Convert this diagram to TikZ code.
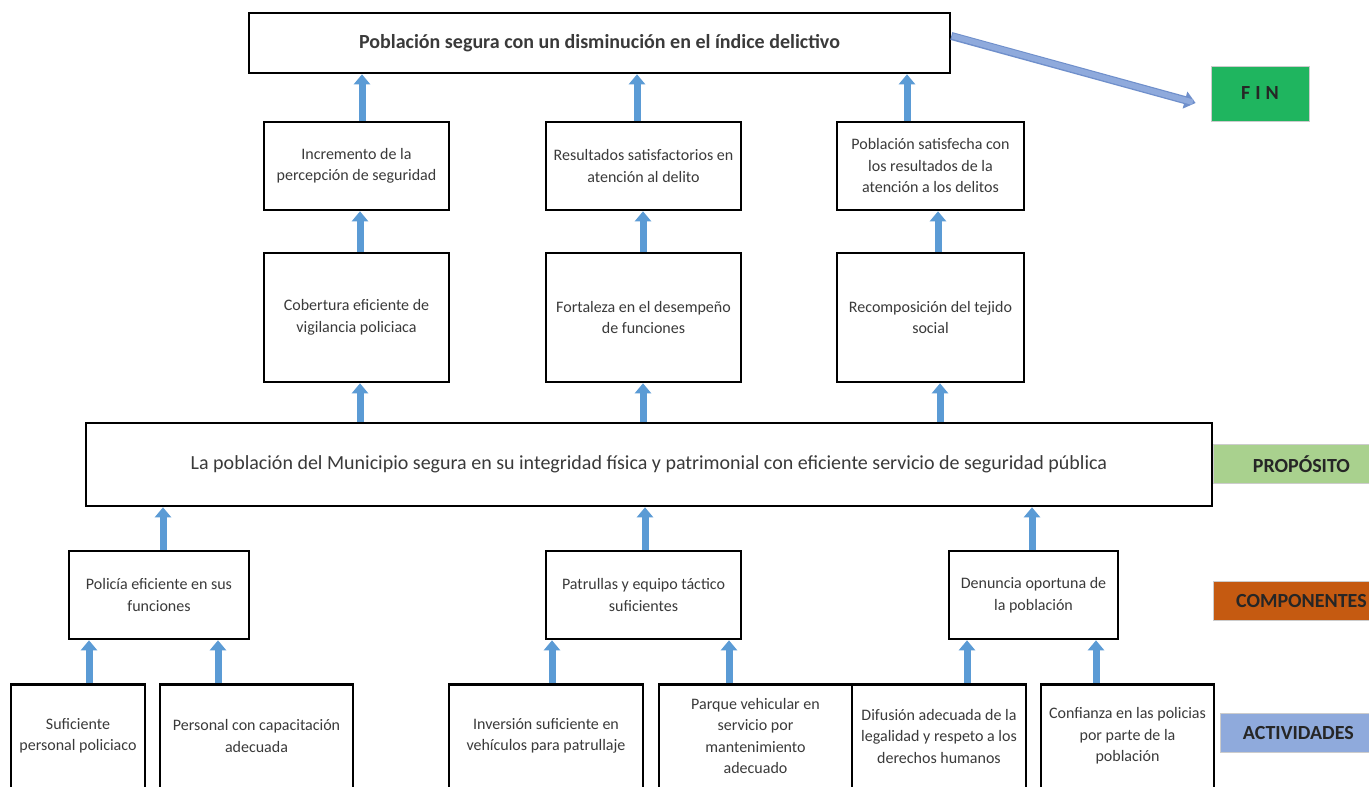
\documentclass[tikz,border=0pt]{standalone}
\usepackage{fontspec}
\setmainfont{Carlito}
\usetikzlibrary{arrows.meta}
\definecolor{txt}{HTML}{3A3A3A}
\definecolor{arrowblue}{HTML}{5B9BD5}
\definecolor{diagblue}{HTML}{8FAADC}
\definecolor{diagedge}{HTML}{6F8FCB}
\definecolor{fingreen}{HTML}{1FB55F}
\definecolor{propgreen}{HTML}{A9D18E}
\definecolor{comporange}{HTML}{C55A11}
\definecolor{actblue}{HTML}{8FAADC}
\tikzset{
  box/.style={draw=black, line width=2.6pt, fill=white, align=center, text=txt,
    font=\fontsize{16}{21.5}\selectfont, inner sep=2pt},
  frame/.style={draw=black, line width=2.6pt, anchor=north},
  btext/.style={align=center, text=txt, font=\fontsize{16}{21.5}\selectfont, inner sep=0pt},
  barrow/.style={draw=arrowblue, line width=7pt, -{Triangle[width=16pt,length=10pt]}},
  tag/.style={minimum height=39pt, text=black!85, font=\fontsize{20}{24}\selectfont\bfseries, draw=white!80!black, line width=0.8pt}
}
\begin{document}
\begin{tikzpicture}[x=1pt,y=-1pt]
\useasboundingbox (0,0) rectangle (1369,787);
\clip (0,0) rectangle (1369,787);
\fill[white] (0,0) rectangle (1369,787);

% top level
\node[box, minimum width=701pt, minimum height=60pt, font=\fontsize{20}{24}\selectfont\bfseries] (top) at (599.5,43) {Población segura con un disminución en el índice delictivo};

% level 2
\node[box, minimum width=185pt, minimum height=88pt] (b1) at (356.5,166) {Incremento de la\\percepción de seguridad};
\node[box, minimum width=195pt, minimum height=88pt] (b2) at (643.5,166) {Resultados satisfactorios en\\atención al delito};
\node[box, minimum width=187pt, minimum height=88pt] (b3) at (930.5,166) {Población satisfecha con\\los resultados de la\\atención a los delitos};

% level 3
\node[box, minimum width=185pt, minimum height=129pt] (c1) at (356.5,317.5) {Cobertura eficiente de\\vigilancia policiaca};
\node[box, minimum width=195pt, minimum height=129pt] (c2) at (643.5,317.5) {Fortaleza en el desempeño\\de funciones};
\node[box, minimum width=187pt, minimum height=129pt] (c3) at (930.5,317.5) {Recomposición del tejido\\social};

% purpose
\node[box, minimum width=1126pt, minimum height=83pt, font=\fontsize{20}{24}\selectfont] (prop) at (649,464.5) {La población del Municipio segura en su integridad física y patrimonial con eficiente servicio de seguridad pública};

% components
\node[box, minimum width=180pt, minimum height=88pt] (d1) at (159,595) {Policía eficiente en sus\\funciones};
\node[box, minimum width=195pt, minimum height=88pt] (d2) at (643.5,595) {Patrullas y equipo táctico\\suficientes};
\node[box, minimum width=169pt, minimum height=88pt] (d3) at (1033.5,595) {Denuncia oportuna de\\la población};

% activities (frames run past the bottom edge)
\node[frame, minimum width=134pt, minimum height=130pt] (e1) at (78,683) {};
\node[frame, minimum width=193pt, minimum height=130pt] (e2) at (256.5,683) {};
\node[frame, minimum width=194pt, minimum height=130pt] (e3) at (546,683) {};
\node[frame, minimum width=193pt, minimum height=130pt] (e4) at (755.5,683) {};
\node[frame, minimum width=174pt, minimum height=130pt] (e5) at (939,683) {};
\node[frame, minimum width=173pt, minimum height=130pt] (e6) at (1127.5,683) {};
\node[btext] (e1t) at (78,736) {Suficiente\\personal policiaco};
\node[btext] (e2t) at (256.5,736) {Personal con capacitación\\adecuada};
\node[btext] (e3t) at (546,736) {Inversión suficiente en\\vehículos para patrullaje};
\node[btext] (e4t) at (755.5,736) {Parque vehicular en\\servicio por\\mantenimiento\\adecuado};
\node[btext] (e5t) at (939,736) {Difusión adecuada de la\\legalidad y respeto a los\\derechos humanos};
\node[btext] (e6t) at (1127.5,736) {Confianza en las policias\\por parte de la\\población};

% tags
\node[tag, fill=fingreen, minimum width=98pt, minimum height=55pt] (fin) at (1260,93.5) {F\hspace{5pt}I\hspace{5pt}N};
\node[tag, fill=propgreen, minimum width=176pt, anchor=west] (tprop) at (1213,464) {PROPÓSITO};
\node[tag, fill=comporange, minimum width=176pt, anchor=west] (tcomp) at (1213,601) {COMPONENTES};
\node[tag, fill=actblue, minimum width=156pt, anchor=west] (tact) at (1220,733) {ACTIVIDADES};

% vertical arrows
\draw[barrow] (b1.north -| 362,0) -- (top.south -| 362,0);
\draw[barrow] (b2.north -| 637,0) -- (top.south -| 637,0);
\draw[barrow] (b3.north -| 907,0) -- (top.south -| 907,0);
\draw[barrow] (c1.north -| 360,0) -- (b1.south -| 360,0);
\draw[barrow] (c2.north -| 643,0) -- (b2.south -| 643,0);
\draw[barrow] (c3.north -| 938,0) -- (b3.south -| 938,0);
\draw[barrow] (prop.north -| 360,0) -- (c1.south -| 360,0);
\draw[barrow] (prop.north -| 643,0) -- (c2.south -| 643,0);
\draw[barrow] (prop.north -| 940,0) -- (c3.south -| 940,0);
\draw[barrow] (d1.north -| 163,0) -- (prop.south -| 163,0);
\draw[barrow] (d2.north -| 645,0) -- (prop.south -| 645,0);
\draw[barrow] (d3.north -| 1032,0) -- (prop.south -| 1032,0);
\draw[barrow] (e1.north -| 89,0) -- (d1.south -| 89,0);
\draw[barrow] (e2.north -| 218,0) -- (d1.south -| 218,0);
\draw[barrow] (e3.north -| 552,0) -- (d2.south -| 552,0);
\draw[barrow] (e4.north -| 729,0) -- (d2.south -| 729,0);
\draw[barrow] (e5.north -| 967,0) -- (d3.south -| 967,0);
\draw[barrow] (e6.north -| 1096,0) -- (d3.south -| 1096,0);

% diagonal arrow to FIN
\coordinate (finin) at ([xshift=-15pt,yshift=-9.5pt]fin.west);
\draw[draw=diagedge, line width=8pt, -{Triangle[width=17pt,length=11pt]}] ([yshift=7pt]top.east) -- (finin);
\draw[draw=diagblue, line width=5.5pt, shorten >=3pt] ([xshift=1pt,yshift=7pt]top.east) -- (finin);
\end{tikzpicture}
\end{document}
